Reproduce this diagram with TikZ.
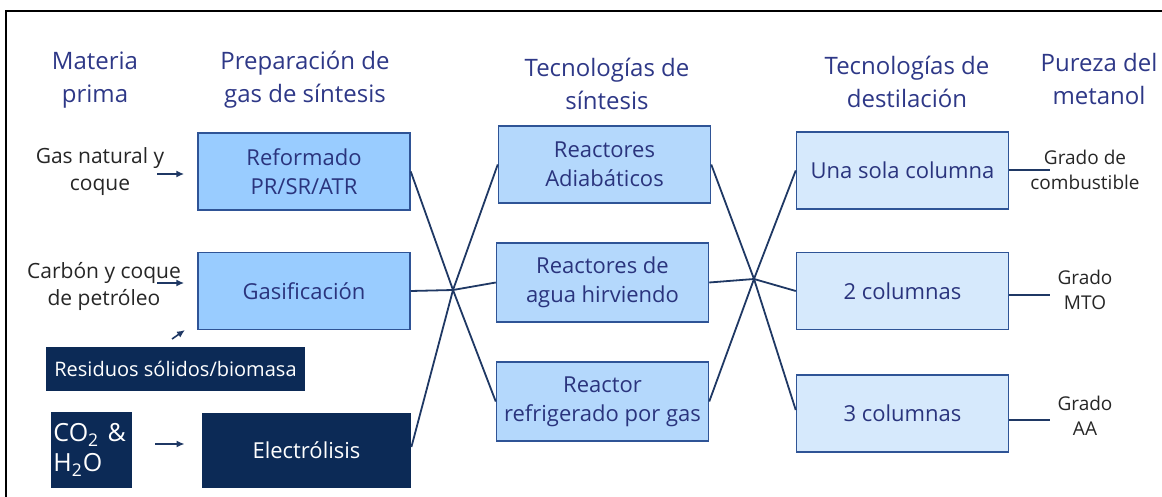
\documentclass[tikz,border=0pt]{standalone}
\usepackage{fontspec}
\setmainfont{Open Sans}
\usetikzlibrary{arrows.meta,positioning}
\definecolor{hdr}{RGB}{46,56,135}
\definecolor{boxtxt}{RGB}{42,52,125}
\definecolor{boxline}{RGB}{47,84,150}
\definecolor{prepfill}{RGB}{153,204,255}
\definecolor{synfill}{RGB}{180,216,252}
\definecolor{destfill}{RGB}{214,233,252}
\definecolor{navy}{RGB}{12,42,86}
\definecolor{linkc}{RGB}{31,56,100}
\tikzstyle{every node}+=[inner sep=0.5mm,align=center]
\tikzstyle{hd}=[text=hdr,font=\fontsize{12}{16.5}\selectfont]
\tikzstyle{src}=[text=black!85,font=\fontsize{10.5}{13.5}\selectfont]
\tikzstyle{grado}=[text=black!85,font=\fontsize{9.5}{12.5}\selectfont]
\tikzstyle{lbox}=[draw=boxline,line width=0.75pt,fill=prepfill,text=boxtxt,minimum width=106pt,minimum height=38.5pt,font=\fontsize{11}{14.5}\selectfont]
\tikzstyle{mbox}=[lbox,fill=synfill]
\tikzstyle{rbox}=[lbox,fill=destfill]
\tikzstyle{dbox}=[fill=navy,text=white,font=\fontsize{10}{13.5}\selectfont]
\tikzstyle{link}=[draw=linkc,line width=0.9pt]
\tikzstyle{arr}=[draw=linkc,line width=0.8pt,-{Latex[length=4pt,width=3.5pt]}]

\begin{document}
\begin{tikzpicture}[x=0.5pt,y=-0.5pt]
\useasboundingbox (0,0) rectangle (1162,497);
\draw[line width=1pt] (6,497) -- (6,11) -- (1162,11);

\node[hd] (h1) at (95,80) {Materia\\prima};
\node[hd] (h2) at (305,80) {Preparación de\\gas de síntesis};
\node[hd] (h3) at (607,84) {Tecnologías de\\síntesis};
\node[hd] (h4) at (907,82) {Tecnologías de\\destilación};
\node[hd] (h5) at (1099,79) {Pureza del\\metanol};

\node[src] (s1) at (100,172) {Gas natural y\\coque};
\node[src] (s2) at (104,286) {Carbón y coque\\de petróleo};

\node[lbox] (ref) at (304,171.5) {Reformado\\PR/SR/ATR};
\node[lbox] (gas) at (304,291) {Gasificación};
\node[dbox,minimum width=129.5pt,minimum height=22pt] (res) at (175.5,369) {Residuos sólidos/biomasa};
\node[dbox,text width=38pt,align=left,minimum height=38pt,font=\fontsize{12.5}{15}\selectfont] (co2) at (91.5,450) {CO\textsubscript{2} \&\\H\textsubscript{2}O};
\node[dbox,minimum width=104.5pt,minimum height=37.5pt,font=\fontsize{11}{14}\selectfont] (ele) at (306.5,450.5) {Electrólisis};

\node[mbox] (adi) at (604.5,164.5) {Reactores\\Adiabáticos};
\node[mbox,minimum height=39.5pt] (agu) at (602.5,282.5) {Reactores de\\agua hirviendo};
\node[mbox,minimum height=39.5pt] (rgs) at (602.5,401.5) {Reactor\\refrigerado por gas};

\node[rbox] (una) at (902.5,170.5) {Una sola columna};
\node[rbox] (dos) at (902.5,291) {2 columnas};
\node[rbox] (tres) at (902.5,413.5) {3 columnas};

\node[grado] (g1) at (1085,170) {Grado de\\combustible};
\node[grado] (g2) at (1085,290) {Grado\\MTO};
\node[grado] (g3) at (1085,416) {Grado\\AA};

\coordinate (a1) at (157,174);
\coordinate (a2) at (157,283);
\coordinate (a3) at (172,339);
\coordinate (a3e) at (185,330);
\coordinate (a4) at (155,444);
\draw[arr,shorten >=6.5pt] (a1) -- (ref.west |- a1);
\draw[arr,shorten >=6.5pt] (a2) -- (gas.west |- a2);
\draw[arr] (a3) -- (a3e);
\draw[arr,shorten >=8.5pt] (a4) -- (ele.west |- a4);

\coordinate (xl) at (453,290);
\coordinate (xr) at (754,279);
\draw[link] (ref.east) -- (xl) -- (rgs.west);
\draw[link] ([yshift=1.75pt]ele.east) -- (xl) -- (adi.west);
\draw[link] (gas.east) -- (xl) -- (agu.west);
\draw[link] (adi.east) -- (xr) -- ([yshift=1.75pt]tres.west);
\draw[link] (agu.east) -- (xr) -- (dos.west);
\draw[link] (rgs.east) -- (xr) -- (una.west);

\coordinate (o1) at (1050,170);
\coordinate (o2) at (1050,295);
\coordinate (o3) at (1050,420);
\draw[link] (una.east |- o1) -- (o1);
\draw[link] (dos.east |- o2) -- (o2);
\draw[link] (tres.east |- o3) -- (o3);
\end{tikzpicture}
\end{document}
